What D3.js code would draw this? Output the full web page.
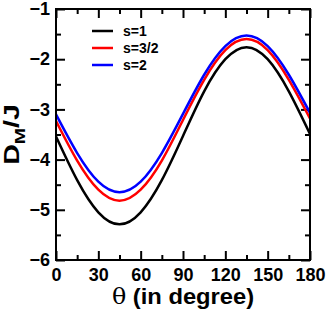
<!DOCTYPE html>
<html>
<head>
<meta charset="utf-8">
<script src="https://cdn.jsdelivr.net/npm/d3@7/dist/d3.min.js"></script>
<style>
  body { margin: 0; background: #fff; }
  svg { display: block; font-family: "Liberation Sans", Arial, sans-serif; font-weight: bold; }
</style>
</head>
<body>
<svg id="chart" width="327" height="311"></svg>
<script>
// theta in degrees, read every 15 deg
var theta = [0, 15, 30, 45, 60, 75, 90, 105, 120, 135, 150, 165, 180]
// D_M/J for each spin value
var s1 = [-3.54, -4.41, -5.05, -5.29, -5.05, -4.41, -3.53, -2.64, -2.00, -1.76, -2.00, -2.64, -3.49]
var s32 = [-3.23, -4.02, -4.60, -4.82, -4.60, -4.02, -3.21, -2.41, -1.82, -1.60, -1.82, -2.41, -3.18]
var s2 = [-3.10, -3.87, -4.44, -4.65, -4.44, -3.87, -3.09, -2.31, -1.74, -1.53, -1.74, -2.31, -3.07]
var seriesNames = ['s=1', 's=3/2', 's=2']
var seriesColors = ['#000000', '#ff0000', '#0000ff']
var xTicks = [0, 30, 60, 90, 120, 150, 180]
var yTicks = [-6, -5, -4, -3, -2, -1]

var series = [s1, s32, s2]

var svg = d3.select('#chart')
var margin = {top: 9, right: 17, bottom: 51, left: 56}
var width = 327 - margin.left - margin.right
var height = 311 - margin.top - margin.bottom
var g = svg.append('g')
  .attr('transform', 'translate(' + margin.left + ',' + margin.top + ')')

var x = d3.scaleLinear().domain([0, 180]).range([0, width])
var y = d3.scaleLinear().domain([-6, -1]).range([height, 0])

// minor ticks every 15 deg / 0.5
var xMinor = d3.range(15, 180, 30)
var yMinor = d3.range(-5.5, -1, 1)

// bottom axis
g.append('g')
  .attr('transform', 'translate(0,' + height + ')')
  .call(d3.axisBottom(x).tickValues(xTicks).tickSize(-9).tickPadding(8).tickFormat(d3.format('d')))
  .call(a => a.select('.domain').remove())
g.append('g')
  .attr('transform', 'translate(0,' + height + ')')
  .call(d3.axisBottom(x).tickValues(xMinor).tickSize(-5).tickFormat(''))
  .call(a => a.select('.domain').remove())

// top axis
g.append('g')
  .call(d3.axisTop(x).tickValues(xTicks).tickSize(-9).tickFormat(''))
  .call(a => a.select('.domain').remove())
g.append('g')
  .call(d3.axisTop(x).tickValues(xMinor).tickSize(-5).tickFormat(''))
  .call(a => a.select('.domain').remove())

// left axis
g.append('g')
  .call(d3.axisLeft(y).tickValues(yTicks).tickSize(-9).tickPadding(6).tickFormat(d3.format('d')))
  .call(a => a.select('.domain').remove())
g.append('g')
  .call(d3.axisLeft(y).tickValues(yMinor).tickSize(-5).tickFormat(''))
  .call(a => a.select('.domain').remove())

// right axis
g.append('g')
  .attr('transform', 'translate(' + width + ',0)')
  .call(d3.axisRight(y).tickValues(yTicks).tickSize(-9).tickFormat(''))
  .call(a => a.select('.domain').remove())
g.append('g')
  .attr('transform', 'translate(' + width + ',0)')
  .call(d3.axisRight(y).tickValues(yMinor).tickSize(-5).tickFormat(''))
  .call(a => a.select('.domain').remove())

g.selectAll('.tick line').attr('stroke', '#000').attr('stroke-width', 2)
g.selectAll('.tick text')
  .attr('fill', '#000')
  .style('font-size', '18px')
  .style('font-weight', 'bold')
  .style('font-family', '"Liberation Sans", Arial, sans-serif')

// curves
var line = d3.line()
  .x((d, i) => x(theta[i]))
  .y(d => y(d))
  .curve(d3.curveNatural)

g.selectAll('path.curve')
  .data(series)
  .enter()
  .append('path')
  .attr('class', 'curve')
  .attr('fill', 'none')
  .attr('stroke', (d, i) => seriesColors[i])
  .attr('stroke-width', 2.5)
  .attr('d', line)

// frame
g.append('rect')
  .attr('width', width)
  .attr('height', height)
  .attr('fill', 'none')
  .attr('stroke', '#000')
  .attr('stroke-width', 2)

// legend
var legend = g.selectAll('g.leg')
  .data(seriesNames)
  .enter()
  .append('g')
  .attr('transform', (d, i) => 'translate(36,' + (22 + i * 17) + ')')
legend.append('line')
  .attr('x1', 0).attr('x2', 21)
  .attr('stroke', (d, i) => seriesColors[i])
  .attr('stroke-width', 2.5)
legend.append('text')
  .attr('x', 31)
  .attr('dy', '0.35em')
  .style('font-size', '14px')
  .text(d => d)

// axis titles
var xt = svg.append('text')
  .attr('transform', 'translate(' + (margin.left + width / 2) + ',304) scale(1.08,1)')
  .attr('text-anchor', 'middle')
  .style('font-size', '22px')
xt.append('tspan').style('font-family', '"DejaVu Serif", "Liberation Serif", serif').style('font-weight', 'normal').text('θ')
xt.append('tspan').text(' (in degree)')

var yt = svg.append('text')
  .attr('transform', 'translate(19,' + (margin.top + height / 2) + ') rotate(-90) scale(1.3,1)')
  .attr('text-anchor', 'middle')
  .style('font-size', '22px')
yt.append('tspan').text('D')
yt.append('tspan').attr('dy', 6).style('font-size', '15px').text('M')
yt.append('tspan').attr('dy', -6).text('/J')
</script>
</body>
</html>
